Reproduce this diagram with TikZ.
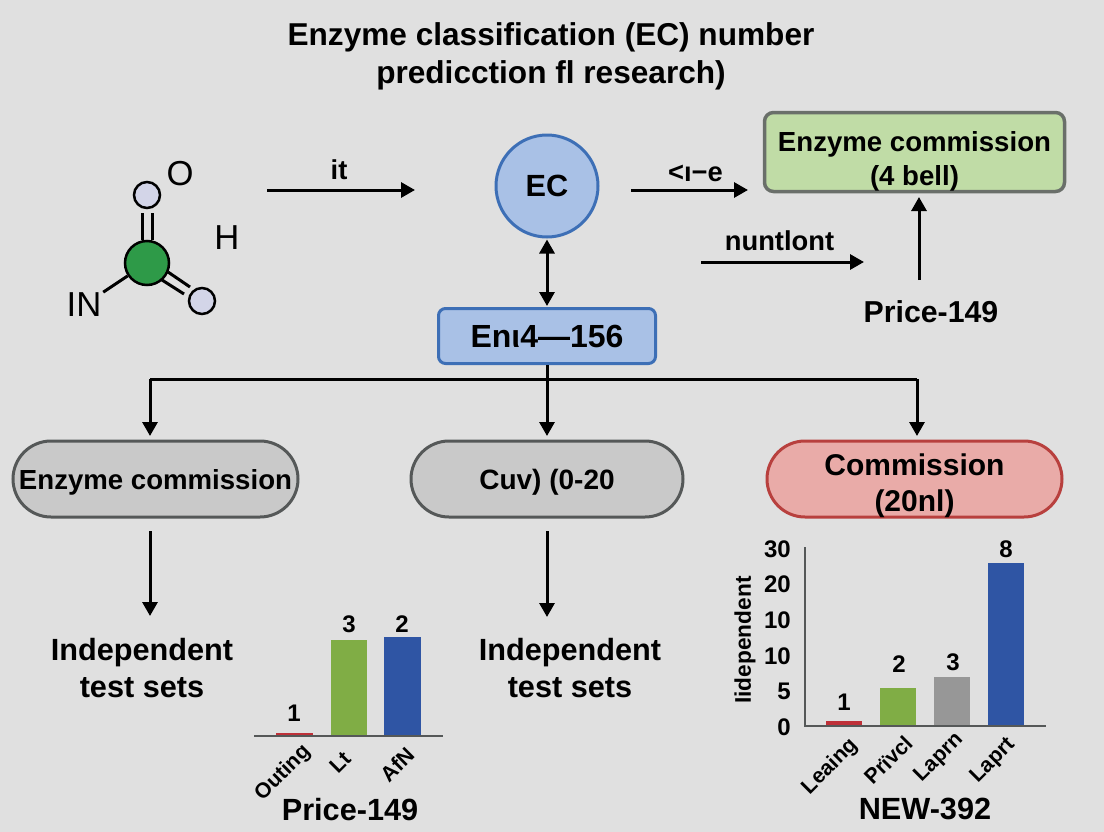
\documentclass[tikz,border=0pt]{standalone}
\usepackage{fontspec}
\setmainfont{Liberation Sans}
\usetikzlibrary{arrows.meta,positioning,shapes.misc}
\definecolor{paper}{HTML}{E0E0E0}
\definecolor{ecblue}{HTML}{A9C1E6}
\definecolor{ecline}{HTML}{3D6FB6}
\definecolor{boxgreen}{HTML}{C0DCA6}
\definecolor{boxline}{HTML}{6A6F6A}
\definecolor{pillgray}{HTML}{C9C9C9}
\definecolor{pillline}{HTML}{555858}
\definecolor{pillred}{HTML}{E9ABA8}
\definecolor{redline}{HTML}{B8403E}
\definecolor{barred}{HTML}{BE3038}
\definecolor{bargreen}{HTML}{80AD45}
\definecolor{bargray}{HTML}{979797}
\definecolor{barblue}{HTML}{2F55A4}
\definecolor{atomgreen}{HTML}{2E9A48}
\definecolor{atomlilac}{HTML}{D3D5E8}
\newcommand{\px}[1]{#1*0.75pt}
\newcommand{\ptfont}[2]{\fontsize{#1}{#2}\selectfont}
\newcommand{\chartbar}[4]{\fill[#1] (#2,#3) rectangle (#4,\chartfloor);}
\tikzset{
    flow/.style={->,line width=\px{3},black},
    bond/.style={line width=\px{3},black},
    bold text/.style={font=\bfseries\ptfont{#1}{#1},inner sep=0pt},
    two lines/.style 2 args={font=\bfseries\ptfont{#1}{#2},inner sep=0pt,align=center},
    atom text/.style={font=\ptfont{26}{26},inner sep=0pt},
    edge text/.style={font=\bfseries\ptfont{20.5}{20.5},inner sep=0pt},
    tick text/.style={font=\bfseries\ptfont{18}{18},inner sep=0pt},
    bar text/.style={font=\bfseries\ptfont{16}{16},inner sep=0pt,rotate=45},
    atom/.style={circle,draw=black,line width=\px{2.5},fill=#1,inner sep=0pt},
    pill/.style={rounded rectangle,draw=#1,line width=\px{3},minimum height=\px{76},inner sep=0pt},
}

\begin{document}
\begin{tikzpicture}[x=0.75pt,y=-0.75pt,>={Triangle[length=\px{14},width=\px{15}]}]
    \fill[paper] (0,0) rectangle (1104,832);
    \useasboundingbox (0,0) rectangle (1104,832);

    % title
    \node[two lines={23.7}{28.5}] (title) at (551,56) {Enzyme classification (EC) number\\predicction fl research)};

    % molecule
    \node[atom=atomgreen, minimum size=\px{44}] (carbon) at (147,263) {};
    \node[atom=atomlilac, minimum size=\px{26}] (otop) at (147,195) {};
    \node[atom=atomlilac, minimum size=\px{26}] (oright) at (202,301) {};
    \node[atom text] (labelo) at (180,174) {O};
    \node[atom text] (labelh) at (227,238) {H};
    \node[atom text] (labeln) at (84,305) {IN};
    \draw[bond] ([xshift=\px{-5}]carbon.north) -- ([xshift=\px{-5}]otop.south |- 0,213);
    \draw[bond] ([xshift=\px{5}]carbon.north) -- ([xshift=\px{5}]otop.south |- 0,213);
    \draw[bond] (168,272) -- (190,287);
    \draw[bond] (162,280) -- (184,294);
    \draw[bond, shorten >=\px{2}] (carbon) -- (labeln);

    % main row
    \node[circle, draw=ecline, fill=ecblue, line width=\px{3}, minimum size=\px{102}, bold text=23] (ec) at (547,186) {EC};
    \node[rectangle, rounded corners=\px{9}, draw=boxline, fill=boxgreen, line width=\px{3.5}, minimum width=\px{300}, minimum height=\px{79}] (commission) at (914.5,152) {};
    \node[two lines={20.7}{25.5}, below=\px{20} of commission.north] (commissiontext) {Enzyme commission\\(4 bell)};
    \node[bold text=22.7] (price) at (931,312) {Price-149};
    \node[rectangle, rounded corners=\px{7}, draw=ecline, fill=ecblue, line width=\px{3}, minimum width=\px{217}, minimum height=\px{55}, bold text=24] (range) at (547,336) {Enι4—156};

    \coordinate (itstart) at (267,190);
    \coordinate (itend) at (415,190);
    \coordinate (ecout) at (631,190);
    \coordinate (ecin) at (748,190);
    \coordinate (nunstart) at (701,262);
    \coordinate (nunend) at (864,262);
    \coordinate (upstart) at (919,280);
    \coordinate (upend) at (919,197);

    \path
        (itstart) edge[flow] node[above=\px{9}, xshift=\px{-2}, edge text] (labelit) {it} (itend)
        (ecout) edge[flow] node[above=\px{7}, xshift=\px{6}, edge text] (labelle) {<ı−e} (ecin)
        (nunstart) edge[flow] node[above=\px{10}, xshift=\px{-3}, edge text] (labelnun) {nuntlont} (nunend)
        (upstart) edge[flow] (upend)
        (ec) edge[flow, <->, shorten <=\px{1}, shorten >=\px{1}] (range)
    ;

    % branches
    \node[pill=pillline, fill=pillgray, minimum width=\px{285}] (pillleft) at (155.5,479) {};
    \node[pill=pillline, fill=pillgray, minimum width=\px{272}] (pillmid) at (547,479) {};
    \node[pill=redline, fill=pillred, minimum width=\px{295}] (pillright) at (914.5,479) {};
    \node[bold text=20.7] (pilllefttext) at ([yshift=\px{-3}]pillleft.center) {Enzyme commission};
    \node[bold text=21] (pillmidtext) at ([yshift=\px{-3}]pillmid.center) {Cuv) (0-20};
    \node[two lines={22.5}{27}, below=\px{14} of pillright.north] (pillrighttext) {Commission\\(20nl)};

    \coordinate (busleft) at (150,379);
    \coordinate (busmid) at (547,379);
    \coordinate (busright) at (917,379);
    \coordinate (dropleft) at (150,436);
    \coordinate (dropmid) at (547,436);
    \coordinate (dropright) at (917,436);

    \draw[bond] (range) -- (busmid);
    \draw[bond] (busleft) -- (busright);
    \path
        (busleft) edge[flow] (dropleft)
        (busmid) edge[flow] (dropmid)
        (busright) edge[flow] (dropright)
    ;

    % test sets
    \node[two lines={23}{27.75}] (testleft) at (142,668) {Independent\\test sets};
    \node[two lines={23}{27.75}] (testmid) at (570,668) {Independent\\test sets};
    \coordinate (downleft) at (150,531);
    \coordinate (tipleft) at (150,616);
    \coordinate (downmid) at (547,531);
    \coordinate (tipmid) at (547,617);
    \path
        (downleft) edge[flow] (tipleft)
        (downmid) edge[flow] (tipmid)
    ;

    % Price-149 bars
    \def\chartfloor{736}
    \chartbar{barred}{276}{733}{313}
    \chartbar{bargreen}{331}{640}{367}
    \chartbar{barblue}{384}{637}{421}
    \coordinate (pricel) at (254,736);
    \coordinate (pricer) at (443,736);
    \draw[line width=\px{1.5}, pillline] (pricel) -- (pricer);
    \node[tick text] (pricea) at (294,713) {1};
    \node[tick text] (priceb) at (349,624) {3};
    \node[tick text] (pricec) at (402,624) {2};
    \node[bar text] (namea) at (283,773) {Outing};
    \node[bar text] (nameb) at (340,762) {Lt};
    \node[bar text] (namec) at (397,765) {AfN};
    \node[bold text=23] (pricename) at (350,810) {Price-149};

    % NEW-392 bars
    \def\chartfloor{726}
    \chartbar{barred}{826}{721}{862}
    \chartbar{bargreen}{880}{688}{916}
    \chartbar{bargray}{934}{677}{970}
    \chartbar{barblue}{988}{563}{1024}
    \coordinate (newtop) at (805,547);
    \coordinate (newzero) at (805,726);
    \coordinate (newend) at (1046,726);
    \draw[line width=\px{1.5}, pillline] (newtop) -- (newzero) -- (newend);
    \foreach \ypos/\val in {549/30,584/20,620/10,656/10,691/5,727/0}
        \node[tick text, anchor=east] (tick\ypos) at (791,\ypos) {\val};
    \node[font=\bfseries\ptfont{17}{17}, inner sep=0pt, rotate=90] (newaxis) at (745,640) {Iidependent};
    \node[tick text] (newa) at (844,702) {1};
    \node[tick text] (newb) at (899,664) {2};
    \node[tick text] (newc) at (953,662) {3};
    \node[tick text] (newd) at (1006,549) {8};
    \node[bar text] (namee) at (830,767) {Leaing};
    \node[bar text] (namef) at (888,760) {Prïvcl};
    \node[bar text] (nameg) at (939,758) {Laprn};
    \node[bar text] (nameh) at (993,761) {Laprt};
    \node[bold text=23] (newname) at (925,809) {NEW-392};
\end{tikzpicture}
\end{document}
